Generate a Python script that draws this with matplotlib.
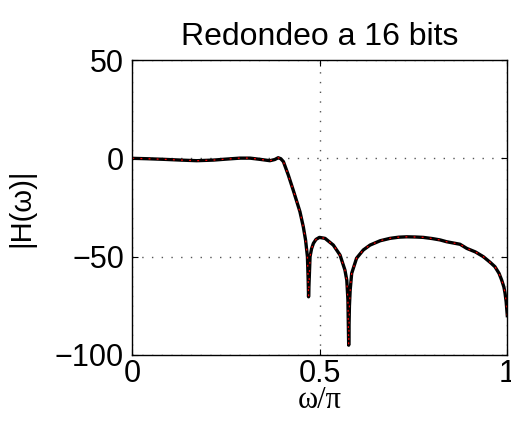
import numpy as np
import matplotlib
matplotlib.use("Agg")
import matplotlib.pyplot as plt

plt.rcParams['font.family'] = ['Liberation Sans', 'DejaVu Sans']

# valores (frecuencia normalizada, dB)
w = [0.000, 0.040, 0.083, 0.130, 0.172, 0.216, 0.250, 0.287, 0.314, 0.340,
     0.367, 0.380, 0.389, 0.396, 0.403, 0.416, 0.429, 0.447, 0.456, 0.462,
     0.467, 0.469, 0.470, 0.472, 0.474, 0.478, 0.483, 0.490, 0.499, 0.514,
     0.536, 0.554, 0.567, 0.572, 0.575, 0.577, 0.579, 0.581, 0.585, 0.598,
     0.616, 0.634, 0.661, 0.687, 0.710, 0.732, 0.755, 0.776, 0.800, 0.821,
     0.838, 0.874, 0.892, 0.915, 0.936, 0.955, 0.967, 0.978, 0.985, 0.991,
     0.994, 0.997, 1.000]
h_db = [0.0, -0.2, -0.5, -0.9, -1.2, -0.9, -0.4, 0.1, 0.1, -0.5,
        -1.2, -0.6, 0.3, -0.2, -1.7, -8.5, -16.1, -27.1, -34.8, -41.5,
        -50.0, -61.9, -70.4, -60.0, -50.0, -46.0, -43.2, -41.2, -40.2, -40.7,
        -44.1, -49.2, -56.8, -62.0, -72.0, -95.0, -75.0, -67.0, -58.5, -50.8,
        -46.6, -44.1, -41.9, -40.7, -40.1, -39.9, -40.0, -40.2, -40.8, -41.5,
        -42.4, -43.7, -45.8, -47.6, -50.0, -53.0, -55.1, -58.5, -61.9, -65.5,
        -68.6, -73.0, -80.0]

x_ticks = [0, 0.5, 1]
y_ticks = [-100, -50, 0, 50]

fig = plt.figure(figsize=(5.11, 4.30), dpi=100)
ax = fig.add_axes([132.3 / 511, (430 - 355) / 430, 375 / 511, 295 / 430])

ax.plot(w, h_db, color='black', linewidth=2.4)
ax.plot(w, h_db, color='red', linewidth=0.9, linestyle='--', dashes=(1.5, 5))

ax.set_xlim(0, 1)
ax.set_ylim(-100, 50)
ax.set_xticks(x_ticks)
ax.set_xticklabels(['0', '0.5', '1'])
ax.set_yticks(y_ticks)
ax.set_yticklabels(['\u2212100', '\u221250', '0', '50'])
ax.tick_params(direction='in', length=4, labelsize=22, pad=3,
               top=True, right=True)
ax.tick_params(axis='y', pad=6)
ax.grid(True, color='#555555', linestyle=(0, (1, 6)), linewidth=1.0)
for s in ax.spines.values():
    s.set_linewidth(1.0)

ax.set_title('Redondeo a 16 bits', fontsize=23, pad=11)
ax.set_xlabel('\u03c9/\u03c0', fontsize=22, family=['Liberation Serif', 'DejaVu Serif'], labelpad=-2)
ax.set_ylabel('|H(\u03c9)|', fontsize=21, labelpad=14)

fig.savefig('out.png', dpi=100)
